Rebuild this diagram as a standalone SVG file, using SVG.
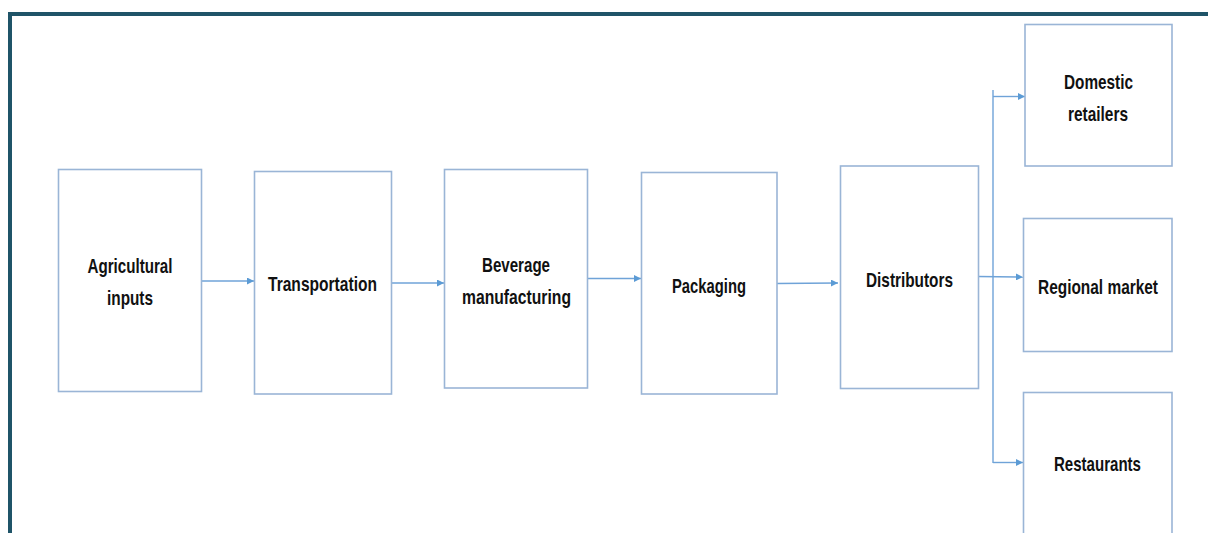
<svg xmlns="http://www.w3.org/2000/svg" width="1208" height="533" viewBox="0 0 1208 533">
  <defs>
    <marker id="arrow" viewBox="0 0 10 10" refX="10" refY="5" markerWidth="7" markerHeight="7" markerUnits="userSpaceOnUse" orient="auto">
      <path d="M0,0 L10,5 L0,10 z" fill="#5b9bd5"/>
    </marker>
    <style>
      .box { fill: #ffffff; stroke: #9ab5d6; stroke-width: 1.6; }
      .lbl { font-family: "Liberation Sans Narrow", "Liberation Sans", Arial, sans-serif; font-weight: bold; font-size: 21px; fill: #111111; text-anchor: middle; }
      .conn { fill: none; stroke: #6fa3d8; stroke-width: 1.4; }
    </style>
  </defs>

  <rect width="1208" height="533" fill="#ffffff"/>
  <!-- outer frame -->
  <path d="M10,540 L10,14 L1212,14" fill="none" stroke="#1f5468" stroke-width="4"/>

  <g id="connectors">
    <line class="conn" x1="201" y1="281" x2="254" y2="281" marker-end="url(#arrow)"/>
    <line class="conn" x1="392" y1="283" x2="444" y2="283" marker-end="url(#arrow)"/>
    <line class="conn" x1="588" y1="278.5" x2="641" y2="278.5" marker-end="url(#arrow)"/>
    <line class="conn" x1="777" y1="283.5" x2="838" y2="283" marker-end="url(#arrow)"/>
    <line class="conn" x1="978" y1="276.5" x2="1023" y2="277" marker-end="url(#arrow)"/>
    <line class="conn" x1="993" y1="90" x2="993" y2="463"/>
    <line class="conn" x1="993" y1="96.5" x2="1025" y2="96.5" marker-end="url(#arrow)"/>
    <path class="conn" d="M993,462.5 L1023,462.5" marker-end="url(#arrow)"/>
  </g>

  <g id="agricultural-inputs">
    <rect class="box" x="58.5" y="169.5" width="143" height="222"/>
    <text class="lbl" x="130" y="272.5" textLength="85" lengthAdjust="spacingAndGlyphs">Agricultural</text>
    <text class="lbl" x="130" y="304.5" textLength="46" lengthAdjust="spacingAndGlyphs">inputs</text>
  </g>

  <g id="transportation">
    <rect class="box" x="254.5" y="171.5" width="137" height="222.5"/>
    <text class="lbl" x="322.5" y="290.5" textLength="109" lengthAdjust="spacingAndGlyphs">Transportation</text>
  </g>

  <g id="beverage-manufacturing">
    <rect class="box" x="444.5" y="169.5" width="143" height="218.5"/>
    <text class="lbl" x="516" y="271.5" textLength="68" lengthAdjust="spacingAndGlyphs">Beverage</text>
    <text class="lbl" x="516.5" y="303.5" textLength="109" lengthAdjust="spacingAndGlyphs">manufacturing</text>
  </g>

  <g id="packaging">
    <rect class="box" x="641.5" y="172.5" width="135.5" height="221.5"/>
    <text class="lbl" x="709" y="292.5" textLength="74" lengthAdjust="spacingAndGlyphs">Packaging</text>
  </g>

  <g id="distributors">
    <rect class="box" x="840.5" y="166" width="138" height="222.5"/>
    <text class="lbl" x="909.5" y="286.5" textLength="87" lengthAdjust="spacingAndGlyphs">Distributors</text>
  </g>

  <g id="domestic-retailers">
    <rect class="box" x="1025" y="24.5" width="147" height="141.5"/>
    <text class="lbl" x="1098.5" y="88.5" textLength="69" lengthAdjust="spacingAndGlyphs">Domestic</text>
    <text class="lbl" x="1098" y="120.5" textLength="60" lengthAdjust="spacingAndGlyphs">retailers</text>
  </g>

  <g id="regional-market">
    <rect class="box" x="1023.5" y="218.5" width="148.5" height="133"/>
    <text class="lbl" x="1098" y="293.5" textLength="120" lengthAdjust="spacingAndGlyphs">Regional market</text>
  </g>

  <g id="restaurants">
    <rect class="box" x="1023.5" y="392.5" width="148.5" height="150"/>
    <text class="lbl" x="1097.5" y="470.5" textLength="87" lengthAdjust="spacingAndGlyphs">Restaurants</text>
  </g>
</svg>
